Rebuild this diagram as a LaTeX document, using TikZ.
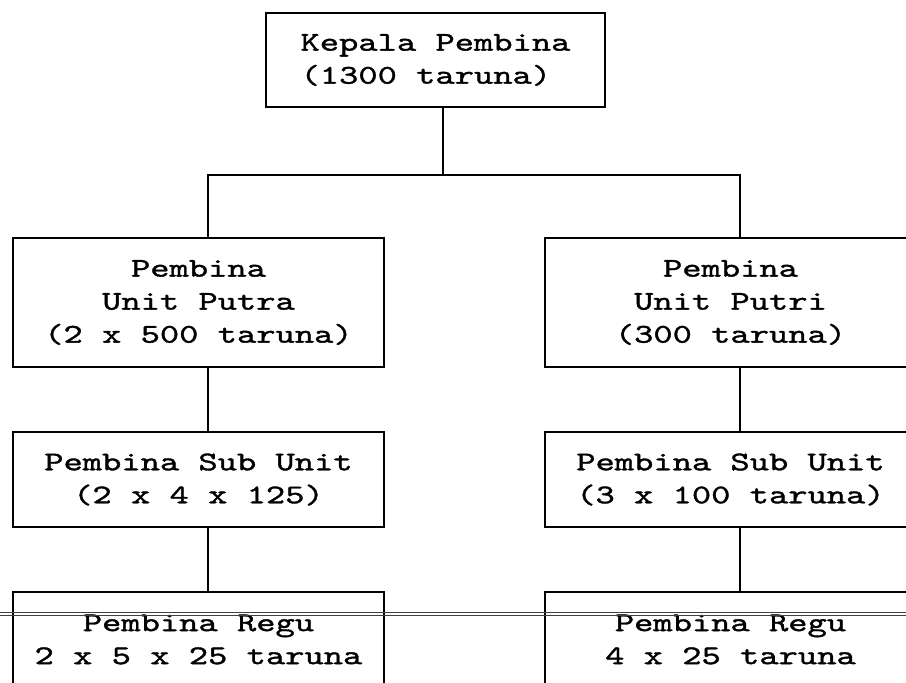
\documentclass[tikz,border=0pt]{standalone}
\usepackage{fontspec}
% wide, heavy typewriter face, like a dot-matrix print
\newfontfamily\dotfont{lmmono10-regular.otf}[FakeStretch=1.36, FakeBold=1.3]
\begin{document}
\begin{tikzpicture}[x=1pt,y=-1pt,
  box/.style={draw, line width=2.2pt, inner sep=0pt, align=center,
    font=\dotfont\fontsize{27}{33}\selectfont},
  link/.style={line width=2.2pt},
  fold/.style={line width=0.9pt, black!75}]
\useasboundingbox (0,0) rectangle (906,683);

% boxes
\node[box, align=left, minimum width=339pt, minimum height=94pt] (top) at (435.5,60)
  {Kepala Pembina\\(1300 taruna)};
\node[box, minimum width=371pt, minimum height=129pt] (L2) at (198.5,302.5)
  {Pembina\\Unit Putra\\(2 x 500 taruna)};
\node[box, minimum width=371pt, minimum height=129pt] (R2) at (730.5,302.5)
  {Pembina\\Unit Putri\\(300 taruna)};
\node[box, minimum width=371pt, minimum height=95pt] (L3) at (198.5,479.5)
  {Pembina Sub Unit\\(2 x 4 x 125)};
\node[box, minimum width=371pt, minimum height=95pt] (R3) at (730.5,479.5)
  {Pembina Sub Unit\\(3 x 100 taruna)};
\node[box, minimum width=371pt, minimum height=95pt] (L4) at (198.5,639.5)
  {Pembina Regu\\2 x 5 x 25 taruna};
\node[box, minimum width=371pt, minimum height=95pt] (R4) at (730.5,639.5)
  {Pembina Regu\\4 x 25 taruna};

% connectors
\draw[link] ([xshift=7.5pt]top.south) -- ++(0,67) coordinate (bus);
\draw[link] (bus) -| ([xshift=9.5pt]L2.north);
\draw[link] (bus) -| ([xshift=9.5pt]R2.north);
\draw[link] ([xshift=9.5pt]L2.south) -- ([xshift=9.5pt]L3.north);
\draw[link] ([xshift=9.5pt]R2.south) -- ([xshift=9.5pt]R3.north);
\draw[link] ([xshift=9.5pt]L3.south) -- ([xshift=9.5pt]L4.north);
\draw[link] ([xshift=9.5pt]R3.south) -- ([xshift=9.5pt]R4.north);

% paper fold running across the sheet
\draw[fold] (0,612.5) -- (906,612.5);
\draw[fold] (0,615.5) -- (906,615.5);
\end{tikzpicture}
\end{document}
